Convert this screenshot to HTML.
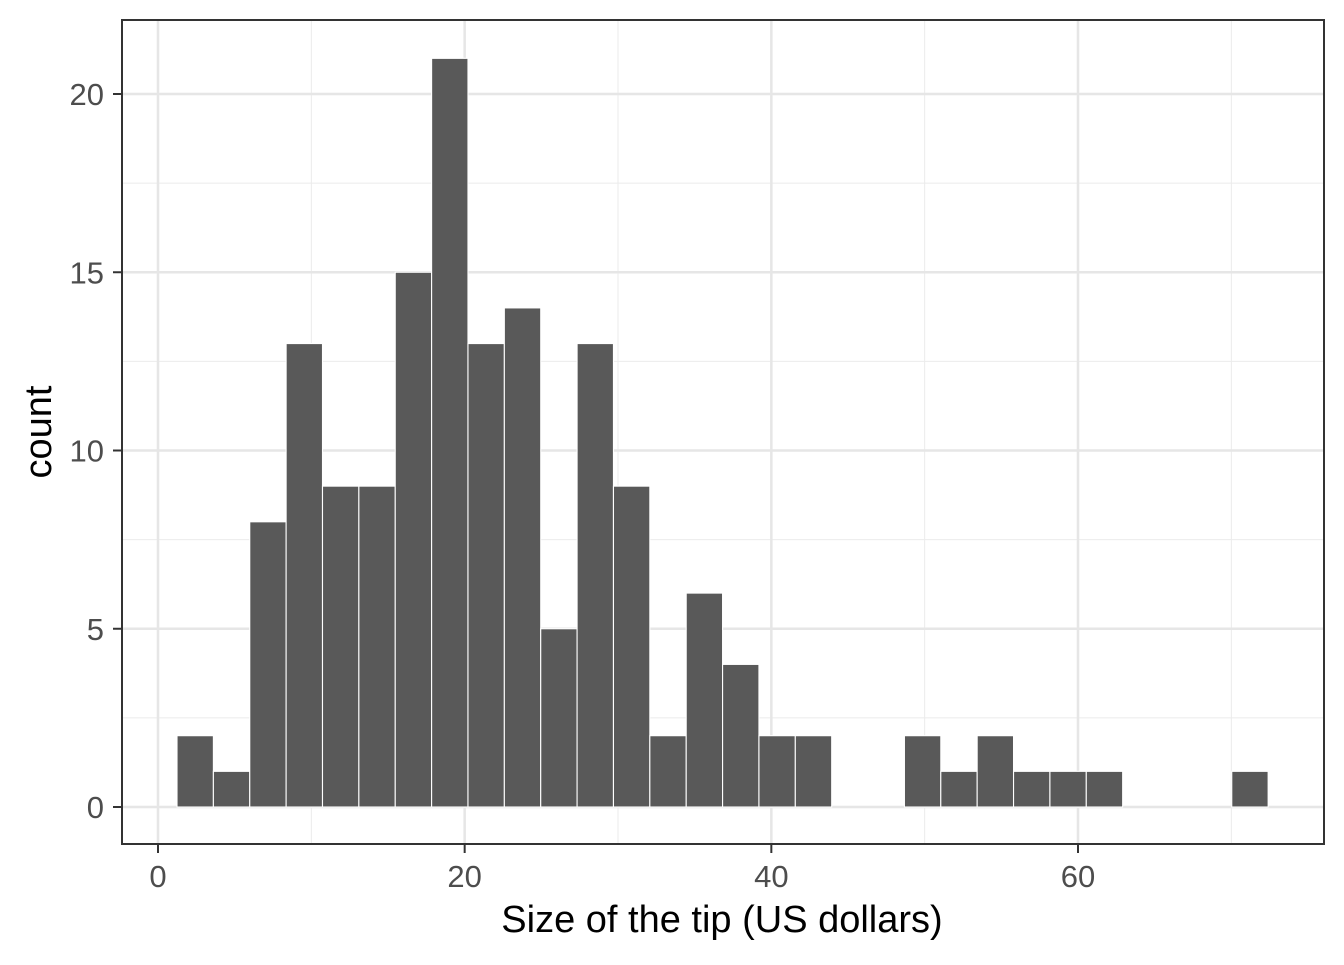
<!DOCTYPE html>
<html><head><meta charset="utf-8"><style>
html,body{margin:0;padding:0;background:#fff;}
svg text{font-family:"Liberation Sans",Arial,sans-serif;}
</style></head><body>
<svg id="chart" width="1344" height="960" xmlns="http://www.w3.org/2000/svg"></svg>
<script>
const counts = [2,1,8,13,9,9,15,21,13,14,5,13,9,2,6,4,2,2,0,0,2,1,2,1,1,1,0,0,0,1];
const binStart = 1.24;
const binWidth = 2.372;
const xTicks = [0,20,40,60];
const yTicks = [0,5,10,15,20];
const xMinor = [10,30,50,70];
const yMinor = [2.5,7.5,12.5,17.5];

const L=122,R=1324,T=20,B=844;
const sx = v => 158 + v*(1078-158)/60;
const sy = v => 807 - v*(807-94)/20;
const svg = document.getElementById('chart');
const NS='http://www.w3.org/2000/svg';
function mk(tag, attrs, parent){
  const e=document.createElementNS(NS,tag);
  for(const k in attrs) e.setAttribute(k, attrs[k]);
  (parent||svg).appendChild(e);
  return e;
}
const grid = mk('g',{});


xMinor.forEach(v=>mk('line',{x1:sx(v),x2:sx(v),y1:T,y2:B,stroke:'#ebebeb','stroke-width':1},grid));
yMinor.forEach(v=>mk('line',{x1:L,x2:R,y1:sy(v),y2:sy(v),stroke:'#ebebeb','stroke-width':1},grid));
xTicks.forEach(v=>mk('line',{x1:sx(v),x2:sx(v),y1:T,y2:B,stroke:'#e6e6e6','stroke-width':2.5},grid));
yTicks.forEach(v=>mk('line',{x1:L,x2:R,y1:sy(v),y2:sy(v),stroke:'#e6e6e6','stroke-width':2.5},grid));

const bars = mk('g',{});


counts.forEach((c,i)=>{
  if(c<=0) return;
  const x0=sx(binStart+i*binWidth), x1=sx(binStart+(i+1)*binWidth);
  const r=mk('rect',{x:x0,y:sy(c),width:x1-x0,height:sy(0)-sy(c),fill:'#595959',stroke:'#fff','stroke-width':1.1},bars);
  
  
});

const border=mk('rect',{x:L,y:T,width:R-L,height:B-T,fill:'none',stroke:'#333','stroke-width':2});



const xa=mk('g',{});


xTicks.forEach(v=>{
  mk('line',{x1:sx(v),x2:sx(v),y1:B,y2:B+9,stroke:'#333','stroke-width':2},xa);
  const t=mk('text',{x:sx(v),y:887,'text-anchor':'middle','font-size':31,fill:'#4d4d4d'},xa);
  t.textContent=v;
  
  
});
const ya=mk('g',{});


yTicks.forEach(v=>{
  mk('line',{x1:L-9,x2:L,y1:sy(v),y2:sy(v),stroke:'#333','stroke-width':2},ya);
  const t=mk('text',{x:104,y:sy(v)+11,'text-anchor':'end','font-size':31,fill:'#4d4d4d'},ya);
  t.textContent=v;
  
  
});
const xt=mk('text',{x:722,y:932,'text-anchor':'middle','font-size':38,fill:'#000'});
xt.textContent='Size of the tip (US dollars)';


const yt=mk('text',{x:0,y:0,'text-anchor':'middle','font-size':38,fill:'#000',transform:'translate(51,432) rotate(-90)'});
yt.textContent='count';


</script>
</body></html>
